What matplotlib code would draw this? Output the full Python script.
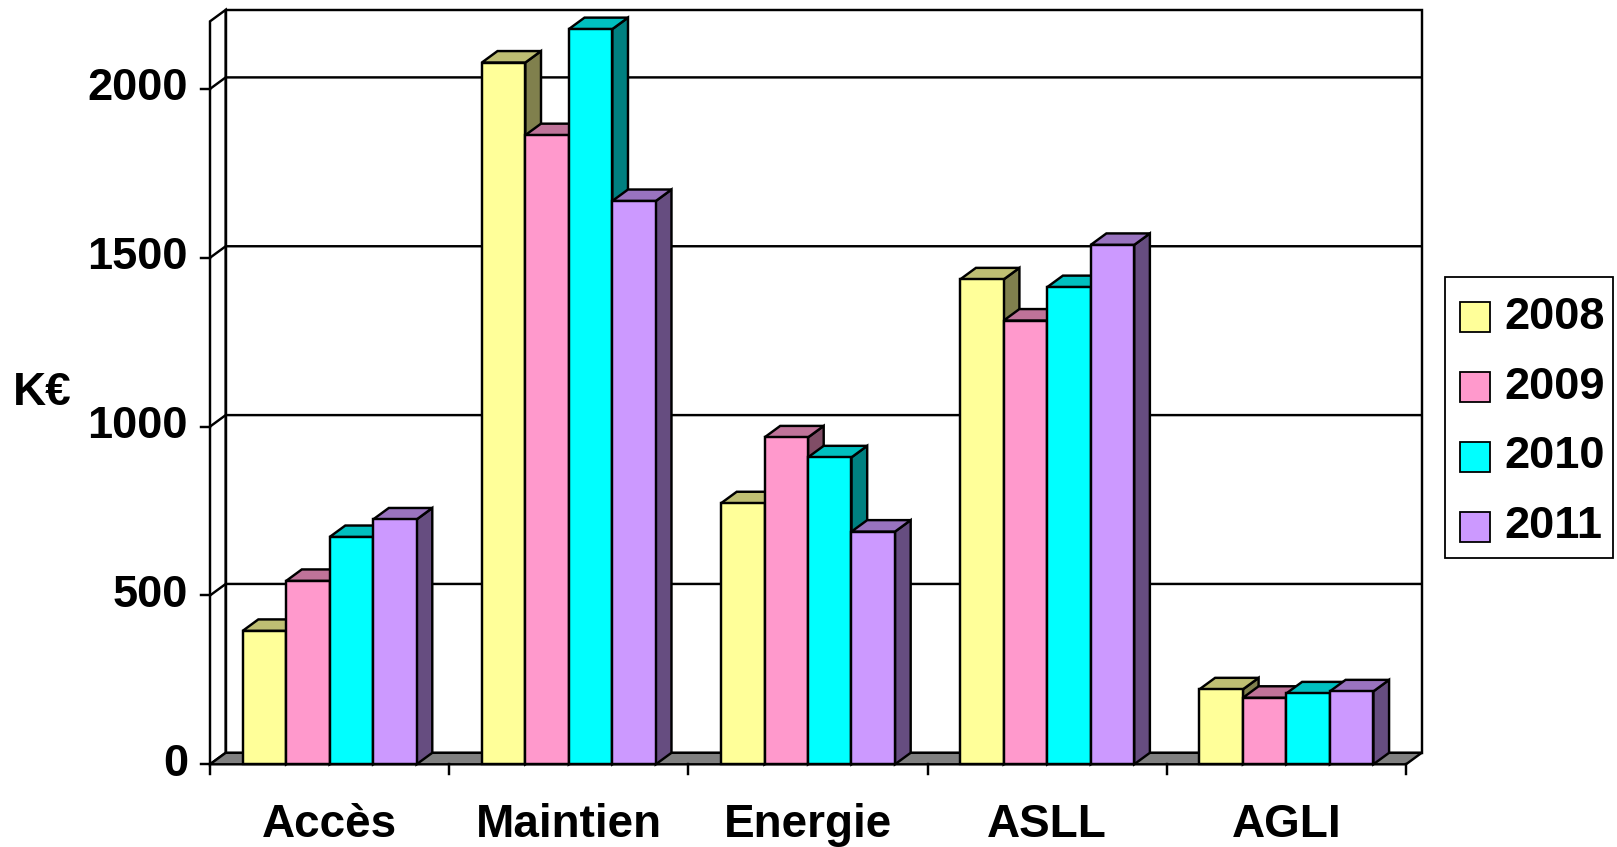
import matplotlib
matplotlib.use('Agg')
import matplotlib.pyplot as plt
from matplotlib.patches import Polygon, Rectangle
import numpy as np

plt.rcParams['font.family'] = ['Liberation Sans', 'DejaVu Sans']

# Budget per poste, K€
categories = ['Accès', 'Maintien', 'Energie', 'ASLL', 'AGLI']
years = ['2008', '2009', '2010', '2011']
v2008 = [395, 2078, 773, 1436, 222]
v2009 = [543, 1863, 968, 1314, 197]
v2010 = [673, 2177, 909, 1413, 210]
v2011 = [725, 1668, 689, 1538, 216]
series = [v2008, v2009, v2010, v2011]
yticks = [0, 500, 1000, 1500, 2000]
ymax = 2200

front_colors = ['#FFFF99', '#FF99CC', '#00FFFF', '#CC99FF']


def shade(hexcol, f):
    rgb = np.array(matplotlib.colors.to_rgb(hexcol))
    return tuple(rgb * f)


W, H = 1617, 847
fig = plt.figure(figsize=(W / 100, H / 100), dpi=100)

# pixel geometry of the front plane and the depth offset
x0_px, y0_px = 210, 764.3
px_x = 239.2      # px per category
px_y = 0.3377     # px per K€
ncat = len(categories)
dx = 15.7 / px_x
dy = 11.5 / px_y

ax = fig.add_axes([x0_px / W, (H - y0_px) / H,
                   (ncat + dx) * px_x / W, (ymax + dy) * px_y / H])
ax.set_xlim(0, ncat + dx)
ax.set_ylim(0, ymax + dy)
ax.axis('off')

lw = 1.75

# walls
ax.add_patch(Polygon([(0, 0), (dx, dy), (dx, ymax + dy), (0, ymax)],
                     closed=True, fc='white', ec='black', lw=lw, clip_on=False, zorder=1))
ax.add_patch(Rectangle((dx, dy), ncat, ymax, fc='white', ec='black', lw=lw,
                       clip_on=False, zorder=1))
for v in yticks[1:]:
    ax.plot([0, dx, ncat + dx], [v, v + dy, v + dy], color='black', lw=lw,
            clip_on=False, zorder=2)

# floor
ax.add_patch(Polygon([(0, 0), (ncat, 0), (ncat + dx, dy), (dx, dy)], closed=True,
                     fc='#808080', ec='black', lw=lw, clip_on=False, zorder=2))

# 3D columns: sides < tops < fronts
gap = 1.5
bw = 1.0 / (len(years) + gap)
for j, vals in enumerate(series):
    xs = np.arange(ncat) + 0.5 - 2 * bw + j * bw
    fc = front_colors[j]
    for x, v in zip(xs, vals):
        xr = x + bw
        ax.add_patch(Polygon([(xr, 0), (xr + dx, dy), (xr + dx, v + dy), (xr, v)],
                             closed=True, fc=shade(fc, 0.5), ec='black', lw=lw,
                             clip_on=False, zorder=3, joinstyle='miter'))
        ax.add_patch(Polygon([(x, v), (xr, v), (xr + dx, v + dy), (x + dx, v + dy)],
                             closed=True, fc=shade(fc, 0.75), ec='black', lw=lw,
                             clip_on=False, zorder=4, joinstyle='miter'))
    ax.bar(xs, vals, width=bw, align='edge', color=fc, edgecolor='black',
           linewidth=lw, zorder=5, clip_on=False)

# ticks and labels
tl_x = 9.5 / px_x
tl_y = 9.5 / px_y
for v in yticks:
    ax.plot([-tl_x, 0], [v, v], color='black', lw=lw, clip_on=False, zorder=6)
    ax.text((188 - x0_px) / px_x, v, str(v), ha='right', va='center',
            fontsize=32.5, fontweight='bold', clip_on=False)
for i in range(ncat + 1):
    ax.plot([i, i], [0, -tl_y], color='black', lw=lw, clip_on=False, zorder=6)
for i, c in enumerate(categories):
    ax.text(i + 0.5, -(837 - y0_px) / px_y, c, ha='center', va='baseline',
            fontsize=33, fontweight='bold', clip_on=False)

ax.text((13 - x0_px) / px_x, (y0_px - 393) / px_y, 'K€', ha='left', va='center',
        fontsize=33, fontweight='bold', clip_on=False)

# legend box
def fx(px):
    return px / W


def fy(py):
    return 1 - py / H


fig.add_artist(Rectangle((fx(1445), fy(558)), fx(1613) - fx(1445), fy(277) - fy(558),
                         transform=fig.transFigure, fc='white', ec='black', lw=1.3))
for k, (yr, fc) in enumerate(zip(years, front_colors)):
    cy = 317 + 70 * k
    fig.add_artist(Rectangle((fx(1460), fy(cy + 15)), fx(30), 30 / H,
                             transform=fig.transFigure, fc=fc, ec='black', lw=1.3))
    fig.text(fx(1504), fy(cy), yr, ha='left', va='center', fontsize=32.5,
             fontweight='bold')

fig.savefig('out.png', dpi=100)
